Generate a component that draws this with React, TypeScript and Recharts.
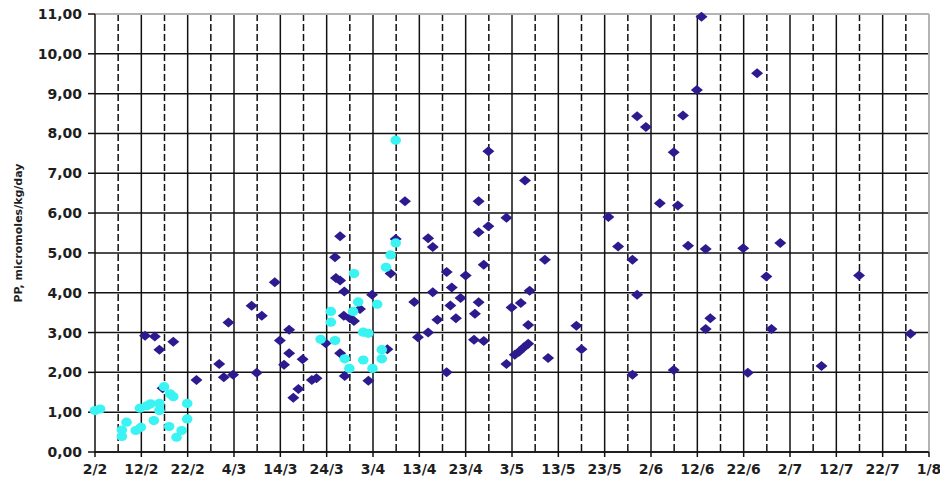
import React from "react";
import {
  ScatterChart,
  Scatter,
  XAxis,
  YAxis,
  CartesianGrid,
} from "recharts";

// x positions are days counted from 2 Feb
const dayTicks = [0, 10, 20, 30, 40, 50, 60, 70, 80, 90, 100, 110, 120, 130, 140, 150, 160, 170, 180];
const dateLabels = [
  "2/2", "12/2", "22/2", "4/3", "14/3", "24/3", "3/4", "13/4", "23/4", "3/5",
  "13/5", "23/5", "2/6", "12/6", "22/6", "2/7", "12/7", "22/7", "1/8",
];
const halfDayTicks = [5, 15, 25, 35, 45, 55, 65, 75, 85, 95, 105, 115, 125, 135, 145, 155, 165, 175];
const ppTicks = [0, 1, 2, 3, 4, 5, 6, 7, 8, 9, 10, 11];

// dark series (diamonds)
const blueDays = [
  10.8, 12.9, 13.9, 16.9, 14.6, 21.9,
  26.8, 27.8, 29.8, 28.8, 33.8, 36.0, 34.9, 38.8, 39.9, 41.9, 41.9, 40.8, 42.8, 43.9,
  44.8, 46.8, 47.8, 49.8, 51.8, 52.0, 52.9, 52.9, 53.8, 53.7, 55.0, 55.9, 57.2, 52.9,
  53.9, 59.0, 59.8, 63.1, 63.8, 64.9, 66.9, 68.9, 69.7,
  71.9, 72.9, 71.9, 72.9, 73.9, 75.9, 75.9, 77.0, 76.7, 77.9, 78.9, 80.0, 81.8, 82.0,
  82.8, 82.8, 82.8, 83.9, 83.9, 84.9, 84.9, 88.8, 88.8, 89.9, 90.6, 91.5, 91.9, 92.6,
  92.8, 93.5, 93.5, 93.8, 97.1, 97.8, 103.9, 105.0,
  110.8, 112.9, 116.0, 116.0, 117.0, 117.0, 118.9, 121.9, 124.9, 124.9, 125.8, 126.9,
  128.0, 129.9, 130.9, 131.8, 131.8, 132.8, 139.9, 140.9, 142.9, 144.9, 146.0, 147.9,
  156.8, 164.9, 176.0,
];
const bluePP = [
  2.92, 2.9, 2.57, 2.77, 1.6, 1.81,
  2.21, 1.88, 1.94, 3.25, 3.67, 3.42, 1.99, 4.26, 2.8, 3.07, 2.48, 2.19, 1.36, 1.58,
  2.33, 1.81, 1.85, 2.73, 4.89, 4.37, 4.31, 5.42, 4.03, 3.42, 3.36, 3.29, 3.59, 2.48,
  1.91, 1.79, 3.95, 2.58, 4.48, 5.35, 6.3, 3.77, 2.88,
  5.37, 5.15, 3.0, 4.01, 3.32, 4.52, 2.0, 4.13, 3.68, 3.36, 3.87, 4.43, 2.82, 3.47,
  3.76, 5.52, 6.3, 2.79, 4.7, 5.67, 7.55, 5.88, 2.21, 3.63, 2.44, 2.52, 3.74, 2.63,
  6.82, 2.72, 3.19, 4.05, 4.83, 2.36, 3.17, 2.58,
  5.9, 5.16, 4.83, 1.94, 3.95, 8.43, 8.16, 6.25, 7.53, 2.06, 6.19, 8.45,
  5.18, 9.09, 10.93, 5.1, 3.09, 3.36, 5.12, 1.99, 9.51, 4.41, 3.09, 5.25,
  2.16, 4.43, 2.97,
];

// light series (round markers)
const cyanDays = [
  0.0, 1.1, 5.8, 5.8, 6.8, 8.8, 9.9, 9.7, 11.2, 12.0, 12.7, 13.9, 13.9, 14.9, 16.2,
  16.9, 16.0, 17.6, 18.7, 19.9, 19.9,
  48.7, 50.9, 50.9, 51.8, 53.9, 54.9, 55.7, 55.9, 56.8, 57.9, 59.0, 57.9, 59.9, 60.9,
  61.9, 61.9, 62.8, 63.8, 64.9, 64.9,
];
const cyanPP = [
  1.04, 1.08, 0.39, 0.55, 0.75, 0.54, 0.62, 1.1, 1.16, 1.21, 0.79, 1.22, 1.04, 1.64, 1.46,
  1.39, 0.64, 0.37, 0.54, 1.22, 0.83,
  2.83, 3.53, 3.26, 2.8, 2.34, 2.1, 3.53, 4.48, 3.77, 3.01, 2.98, 2.31, 2.1, 3.71,
  2.57, 2.34, 4.64, 4.95, 5.25, 7.83,
];

const blueData = blueDays.map((d, i) => ({ day: d, pp: bluePP[i] }));
const cyanData = cyanDays.map((d, i) => ({ day: d, pp: cyanPP[i] }));

const tickFont = {
  fontFamily: "DejaVu Sans, Verdana, sans-serif",
  fontWeight: 700,
  fontSize: 14,
  fill: "#1e1e1e",
};

const Diamond = (p: any) => (
  <polygon
    points={`${p.cx},${p.cy - 5} ${p.cx + 6},${p.cy} ${p.cx},${p.cy + 5} ${p.cx - 6},${p.cy}`}
    fill="#2c1a8f"
  />
);

const Dot = (p: any) => <ellipse cx={p.cx} cy={p.cy} rx={5.3} ry={4.6} fill="#3af3f3" />;

const XTick = ({ x, y, payload }: any) => (
  <text x={x} y={y + 15} textAnchor="middle" {...tickFont}>
    {dateLabels[dayTicks.indexOf(payload.value)]}
  </text>
);

const YTick = ({ x, y, payload }: any) => (
  <text x={x} y={y} dy="0.36em" textAnchor="end" {...tickFont}>
    {payload.value.toFixed(2).replace(".", ",")}
  </text>
);

const AxisTitle = ({ viewBox }: any) => {
  const cy = viewBox.y + viewBox.height / 2;
  return (
    <text
      x={18}
      y={cy}
      transform={`rotate(-90, 18, ${cy})`}
      textAnchor="middle"
      dominantBaseline="central"
      fontFamily="DejaVu Sans, Verdana, sans-serif"
      fontWeight={700}
      fontSize={11}
      fill="#1e1e1e"
    >
      PP, micromoles/kg/day
    </text>
  );
};

export default function App() {
  return (
    <div style={{ position: "absolute", left: 0, top: 0, background: "#fff" }}>
      <ScatterChart width={940} height={477} margin={{ top: 14, right: 11, bottom: 0, left: 0 }}>
        {/* solid grid: every whole unit and every 10 days */}
        <CartesianGrid
          stroke="#111"
          strokeWidth={1.5}
          horizontalValues={ppTicks.slice(0, 11)}
          verticalValues={dayTicks.slice(1, 18)}
        />
        {/* dashed lines halfway between the date ticks */}
        <CartesianGrid
          stroke="#111"
          strokeWidth={1.5}
          strokeDasharray="7 3"
          horizontal={false}
          verticalValues={halfDayTicks}
        />
        {/* plot area border */}
        <CartesianGrid stroke="#b4b4b4" strokeWidth={2} horizontalValues={[11]} verticalValues={[180]} />
        <XAxis
          type="number"
          dataKey="day"
          domain={[0, 180]}
          ticks={dayTicks}
          interval={0}
          height={25}
          tickSize={5}
          stroke="#111"
          strokeWidth={1.5}
          tick={<XTick />}
        />
        <YAxis
          type="number"
          dataKey="pp"
          domain={[0, 11]}
          ticks={ppTicks}
          interval={0}
          width={95}
          tickSize={7}
          tickMargin={6}
          stroke="#111"
          strokeWidth={1.5}
          tick={<YTick />}
          label={<AxisTitle />}
        />
        <Scatter data={blueData} shape={Diamond} isAnimationActive={false} />
        <Scatter data={cyanData} shape={Dot} isAnimationActive={false} />
      </ScatterChart>
    </div>
  );
}
